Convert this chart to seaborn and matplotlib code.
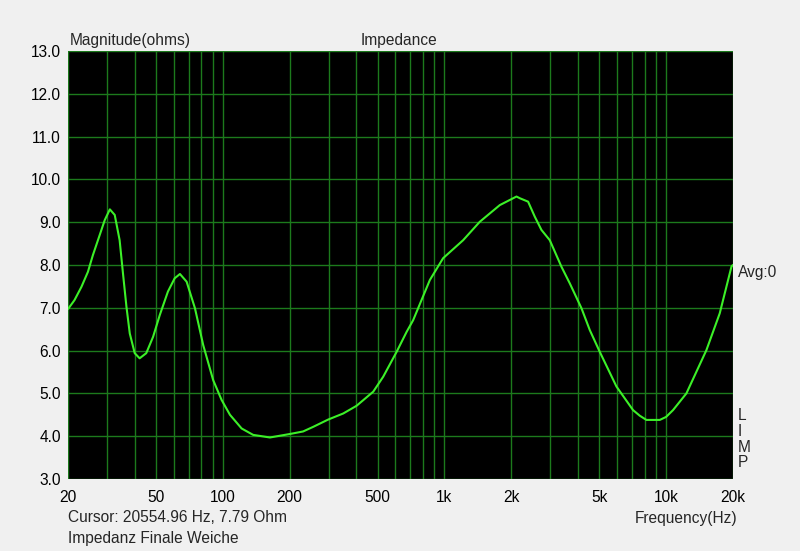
import numpy as np
import pandas as pd
import matplotlib
matplotlib.use('Agg')
import matplotlib.pyplot as plt
from matplotlib.ticker import FixedLocator, NullLocator
import seaborn as sns

# impedance curve
freq_hz = [20, 21.4, 23.0, 24.6, 25.9, 27.8, 29.3, 30.9, 32.5, 34.2, 35.4, 36.7, 38.0,
           40.0, 42.1, 45.1, 48.4, 51.9, 56.5, 60.6, 64.0, 68.6, 74.8, 81.5, 90.4,
           98.6, 107.6, 121.5, 137, 163, 200, 230, 256, 299, 349, 401, 477, 529,
           608, 675, 722, 859, 986, 1214, 1443, 1777, 2113, 2188, 2384, 2555, 2738,
           2986, 3371, 3677, 4151, 4525, 5021, 5971, 7093, 7600, 8150, 9364, 10000,
           10750, 12350, 15200, 17460, 19720, 20000]
impedance_ohm = [6.97, 7.18, 7.49, 7.84, 8.23, 8.70, 9.05, 9.30, 9.17, 8.58, 7.81, 7.03, 6.40,
                 5.94, 5.82, 5.94, 6.32, 6.83, 7.38, 7.69, 7.79, 7.61, 6.99, 6.13, 5.31,
                 4.85, 4.50, 4.18, 4.03, 3.97, 4.05, 4.11, 4.22, 4.39, 4.53, 4.71, 5.04, 5.39,
                 5.97, 6.44, 6.71, 7.65, 8.16, 8.58, 9.01, 9.40, 9.60, 9.56, 9.48, 9.13, 8.82,
                 8.58, 7.96, 7.57, 6.99, 6.48, 5.97, 5.16, 4.61, 4.48, 4.38, 4.38, 4.45,
                 4.61, 5.00, 6.01, 6.87, 7.96, 8.0]

x_ticks = [20, 50, 100, 200, 500, 1000, 2000, 5000, 10000, 20000]
x_tick_labels = ['20', '50', '100', '200', '500', '1k', '2k', '5k', '10k', '20k']
y_ticks = [3, 4, 5, 6, 7, 8, 9, 10, 11, 12, 13]

df = pd.DataFrame({'freq': freq_hz, 'z': impedance_ohm})

sns.set_style('dark')
plt.rcParams['font.family'] = ['Liberation Sans', 'DejaVu Sans']

fig = plt.figure(figsize=(8, 5.51), dpi=100, facecolor='#F0F0F0')
ax = fig.add_axes([0.085, 0.1307, 0.831, 0.7767])
ax.set_facecolor('black')

# all log decade grid lines
grid_x = [m * 10 ** e for e in range(1, 5) for m in range(1, 10)]
grid_x = [g for g in grid_x if 20 <= g <= 20000]
for g in grid_x:
    ax.axvline(g, color='#1C7A1C', lw=1, zorder=1)
for g in y_ticks:
    ax.axhline(g, color='#1C7A1C', lw=1, zorder=1)

sns.lineplot(data=df, x='freq', y='z', ax=ax, color='#3CF028', lw=1.5, zorder=3)

ax.set_xscale('log')
ax.set_xlim(20, 20000)
ax.set_ylim(3, 13)
ax.xaxis.set_major_locator(FixedLocator(x_ticks))
ax.xaxis.set_minor_locator(NullLocator())
ax.set_xticks(x_ticks)
ax.set_xticklabels(x_tick_labels)
ax.set_yticks(y_ticks)
ax.set_yticklabels([f'{v:.1f}' for v in y_ticks])
fs = 11.2
ax.tick_params(axis='both', length=0, labelsize=fs, colors='black')
ax.tick_params(axis='x', pad=8)
ax.tick_params(axis='y', pad=5)
ax.set_xlabel('')
ax.set_ylabel('')
ax.grid(False)
for s in ax.spines.values():
    s.set_visible(False)

fig.text(70 / 800, 1 - 40 / 551, 'Magnitude(ohms)', fontsize=fs, ha='left', va='center')
fig.text(399 / 800, 1 - 40 / 551, 'Impedance', fontsize=fs, ha='center', va='center')
fig.text(738 / 800, 1 - 273 / 551, 'Avg:0', fontsize=fs, ha='left', va='center')
for i, ch in enumerate('LIMP'):
    fig.text(738 / 800, 1 - (416 + i * 15.5) / 551, ch, fontsize=fs, ha='left', va='center')
fig.text(686 / 800, 1 - 519 / 551, 'Frequency(Hz)', fontsize=fs, ha='center', va='center')
fig.text(68 / 800, 1 - 518 / 551, 'Cursor: 20554.96 Hz, 7.79 Ohm', fontsize=fs, ha='left', va='center')
fig.text(68 / 800, 1 - 539 / 551, 'Impedanz Finale Weiche', fontsize=fs, ha='left', va='center')

fig.savefig('out.png', dpi=100, facecolor=fig.get_facecolor())
